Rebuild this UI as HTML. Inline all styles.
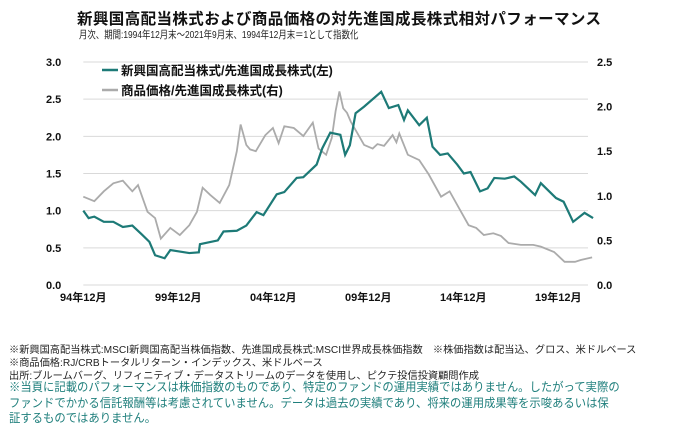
<!DOCTYPE html>
<html><head><meta charset="utf-8"><style>
body{margin:0;width:685px;height:435px;background:#fff;overflow:hidden;font-family:"Liberation Sans","Noto Sans CJK JP",sans-serif;}
.t{position:absolute;white-space:nowrap;}
</style></head><body>
<div class="t" style="left:77px;top:7px;font-size:15.5px;font-weight:bold;color:#111;letter-spacing:0.4px;">新興国高配当株式および商品価格の対先進国成長株式相対パフォーマンス</div>
<div class="t" style="left:79px;top:27px;font-size:10.5px;color:#222;transform:scaleX(0.8);transform-origin:left top;">月次、期間:1994年12月末～2021年9月末、1994年12月末＝1として指数化</div>
<svg id="c" width="685" height="320" style="position:absolute;left:0;top:0"></svg>
<div class="t" style="left:9px;top:341px;font-size:10px;color:#222;transform:scaleX(1.02);transform-origin:left top;">※新興国高配当株式:MSCI新興国高配当株価指数、先進国成長株式:MSCI世界成長株価指数　※株価指数は配当込、グロス、米ドルベース</div>
<div class="t" style="left:9px;top:354px;font-size:10px;color:#222;transform:scaleX(1.02);transform-origin:left top;">※商品価格:RJ/CRBトータルリターン・インデックス、米ドルベース</div>
<div class="t" style="left:9px;top:367px;font-size:10px;color:#222;transform:scaleX(1.02);transform-origin:left top;">出所:ブルームバーグ、リフィニティブ・データストリームのデータを使用し、ピクテ投信投資顧問作成</div>
<div class="t" style="left:9px;top:380px;font-size:12px;line-height:15.5px;color:#1f7f7c;transform:scaleX(0.945);transform-origin:left top;">※当頁に記載のパフォーマンスは株価指数のものであり、特定のファンドの運用実績ではありません。したがって実際の<br>ファンドでかかる信託報酬等は考慮されていません。データは過去の実績であり、将来の運用成果等を示唆あるいは保<br>証するものではありません。</div>
<script>
const leftTicks=[0,0.5,1,1.5,2,2.5,3];
const rightTicks=[0,0.5,1,1.5,2,2.5];
const xTickYears=[1994.92,1999.92,2004.92,2009.92,2014.92,2019.92];
const xTickLabels=["94年12月","99年12月","04年12月","09年12月","14年12月","19年12月"];
const emDates=[1994.92,1995.2,1995.5,1996,1996.5,1997,1997.5,1998,1998.4,1998.7,1999.2,1999.5,2000,2000.5,2001,2001.06,2002,2002.3,2003,2003.5,2004.04,2004.4,2005.1,2005.5,2006.15,2006.5,2007.2,2007.5,2007.92,2008.45,2008.7,2008.95,2009.25,2009.7,2010.6,2011.0,2011.5,2011.8,2012.0,2012.6,2013.0,2013.3,2013.7,2014.1,2014.6,2014.95,2015.3,2015.8,2016.2,2016.55,2017.1,2017.6,2017.95,2018.7,2019.0,2019.8,2020.2,2020.7,2021.3,2021.75];
const emValues=[1.0,0.9,0.92,0.85,0.85,0.78,0.8,0.68,0.58,0.4,0.36,0.47,0.45,0.43,0.44,0.55,0.6,0.72,0.73,0.8,0.98,0.94,1.22,1.25,1.44,1.45,1.62,1.84,2.05,2.02,1.75,1.88,2.31,2.4,2.6,2.38,2.42,2.22,2.35,2.15,2.25,1.86,1.75,1.77,1.62,1.5,1.52,1.26,1.3,1.44,1.43,1.46,1.39,1.21,1.37,1.17,1.12,0.85,0.97,0.9];
const cmDates=[1994.92,1995.5,1996,1996.5,1997,1997.5,1997.8,1998.3,1998.7,1999.0,1999.5,2000,2000.5,2000.9,2001.2,2001.6,2002.1,2002.6,2003.0,2003.2,2003.5,2003.7,2004.0,2004.5,2004.9,2005.2,2005.5,2006,2006.5,2007.0,2007.3,2007.7,2008.0,2008.2,2008.4,2008.6,2008.8,2009.0,2009.35,2009.7,2010.15,2010.4,2010.75,2011.2,2011.4,2011.55,2012.0,2012.6,2013.1,2013.75,2014.2,2014.7,2015.2,2015.6,2016.0,2016.5,2016.9,2017.3,2017.95,2018.6,2019.0,2019.7,2020.25,2020.8,2021.1,2021.7];
const cmValues=[0.99,0.94,1.05,1.14,1.17,1.05,1.12,0.82,0.75,0.52,0.64,0.56,0.67,0.82,1.09,1.01,0.92,1.12,1.5,1.8,1.57,1.52,1.5,1.68,1.76,1.59,1.78,1.76,1.67,1.82,1.53,1.46,1.65,1.95,2.17,1.98,1.93,1.83,1.70,1.57,1.53,1.58,1.56,1.68,1.6,1.70,1.46,1.40,1.24,0.99,1.05,0.86,0.67,0.64,0.56,0.58,0.55,0.47,0.45,0.45,0.43,0.37,0.26,0.26,0.28,0.31];
const NS='http://www.w3.org/2000/svg';
const svg=document.getElementById('c');
const X0=83.3,PX=19,TOP=62,BOT=285;
const xs=d=>X0+(d-1994.92)*PX;
const yl=v=>BOT-(BOT-TOP)*v/3;
const yr=v=>BOT-(BOT-TOP)*v/2.5;
function mk(tag,a){const e=document.createElementNS(NS,tag);for(const k in a)e.setAttribute(k,a[k]);svg.appendChild(e);return e;}
leftTicks.forEach(v=>{
  const g=mk('line',{x1:X0,x2:588,y1:yl(v),y2:yl(v),stroke:'#d9d9d9','stroke-width':1});
  
  
  const t=mk('text',{x:46,y:yl(v)+4,'font-size':11,'font-weight':'bold',fill:'#111'});
  t.textContent=v.toFixed(1);
  
  
});
rightTicks.forEach(v=>{
  const t=mk('text',{x:597,y:yr(v)+4,'font-size':11,'font-weight':'bold',fill:'#111'});
  t.textContent=v.toFixed(1);
  
  
});
xTickYears.forEach((d,i)=>{
  const t=mk('text',{x:xs(d),y:301,'font-size':11,'font-weight':'bold',fill:'#111','text-anchor':'middle'});
  t.textContent=xTickLabels[i];
  
  
});
const p2=mk('polyline',{points:cmDates.map((d,i)=>xs(d)+','+yr(cmValues[i])).join(' '),fill:'none',stroke:'#ababab','stroke-width':1.8});


const p1=mk('polyline',{points:emDates.map((d,i)=>xs(d)+','+yl(emValues[i])).join(' '),fill:'none',stroke:'#1d7a77','stroke-width':2.2});


const l1=mk('line',{x1:102,x2:118,y1:70,y2:70,stroke:'#1d7a77','stroke-width':2.5});


const t1=mk('text',{x:121,y:75,'font-size':12.5,'font-weight':'bold',fill:'#111'});
t1.textContent='新興国高配当株式/先進国成長株式(左)';


const l2=mk('line',{x1:102,x2:118,y1:90,y2:90,stroke:'#ababab','stroke-width':2.5});


const t2=mk('text',{x:121,y:95,'font-size':12.5,'font-weight':'bold',fill:'#111'});
t2.textContent='商品価格/先進国成長株式(右)';


</script>
</body></html>
